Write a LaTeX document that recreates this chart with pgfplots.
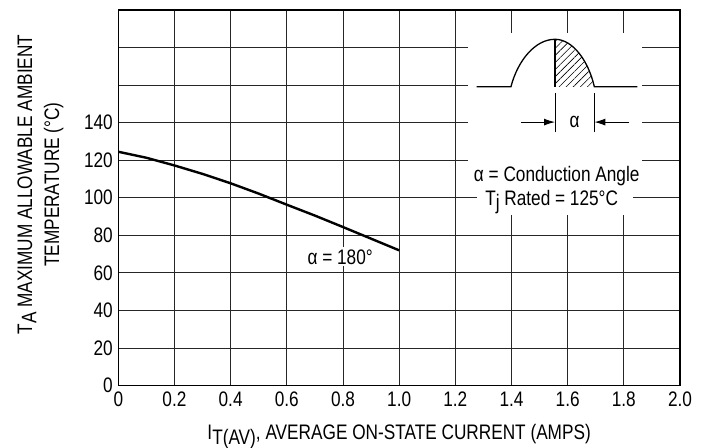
\documentclass[border=0pt]{standalone}
\usepackage{fontspec}
\setmainfont{Liberation Sans}[FakeStretch=0.82]
\usepackage{pgfplots}
\pgfplotsset{compat=1.18}
\usetikzlibrary{patterns.meta,arrows.meta}
\newcommand{\fs}{\fontsize{21bp}{25bp}\selectfont}
\newcommand{\dn}[1]{\raisebox{-0.38ex}{#1}}

\begin{document}
\begin{tikzpicture}
\begin{axis}[
  scale only axis,
  width=561.7bp, height=375.5bp,
  xmin=0, xmax=2, ymin=0, ymax=200,
  xtick={0,0.2,0.4,0.6,0.8,1.0,1.2,1.4,1.6,1.8,2.0},
  xticklabels={0,0.2,0.4,0.6,0.8,1.0,1.2,1.4,1.6,1.8,2.0},
  ytick={0,20,40,60,80,100,120,140,160,180,200},
  yticklabels={0,20,40,60,80,100,120,140,,,},
  grid=major,
  major grid style={line width=0.9bp, black!85},
  major tick length=0pt,
  axis line style={line width=1.3bp},
  tick label style={font=\fs, /pgf/number format/assume math mode=true},
  xticklabel style={yshift=-3bp},
  yticklabel style={xshift=-2bp},
  clip=false,
]
% derating curve, alpha = 180 deg
\addplot[line width=2.4bp, black] coordinates {
  (0,124.5) (0.1,121.3) (0.2,117.2) (0.3,112.7) (0.4,107.7) (0.5,102.2)
  (0.6,96.3) (0.7,90.5) (0.8,84.4) (0.9,78.2) (1.0,72)
};
\node[font=\fs, fill=white, inner sep=2bp, anchor=base] at (axis cs:0.79,64.7) {α = 180°};

% inset: conduction angle sketch
\fill[white] (axis cs:1.245,104) rectangle (axis cs:1.864,187.7);
\fill[white] (axis cs:1.276,90.8) rectangle (axis cs:1.833,106);
\fill[pattern={Lines[angle=45,distance=5bp,line width=0.6bp]}]
  (axis cs:1.555,159.1) -- (axis cs:1.555,184.4)
  .. controls (axis cs:1.618,184.4) and (axis cs:1.674,173) .. (axis cs:1.695,159.1) -- cycle;
\draw[line width=1.3bp] (axis cs:1.276,159.1) -- (axis cs:1.398,159.1)
  .. controls (axis cs:1.422,173) and (axis cs:1.484,184.4) .. (axis cs:1.555,184.4)
  .. controls (axis cs:1.618,184.4) and (axis cs:1.674,173) .. (axis cs:1.695,159.1)
  -- (axis cs:1.848,159.1);
\draw[line width=1.3bp] (axis cs:1.555,159.1) -- (axis cs:1.555,184.4);
\draw[line width=1bp] (axis cs:1.555,155.6) -- (axis cs:1.555,135.2);
\draw[line width=1bp] (axis cs:1.695,155.6) -- (axis cs:1.695,135.2);
\draw[line width=1bp, -{Latex[length=11bp,width=7bp]}] (axis cs:1.435,140.3) -- (axis cs:1.555,140.3);
\draw[line width=1bp, -{Latex[length=11bp,width=7bp]}] (axis cs:1.817,140.3) -- (axis cs:1.695,140.3);
\node[font=\fs] at (axis cs:1.625,140.3) {α};
\node[font=\fs, anchor=base] at (axis cs:1.561,108.5) {α = Conduction Angle};
\node[font=\fs, anchor=base] at (axis cs:1.543,96.1) {T\dn{j} Rated = 125°C};

% axis titles
\node[font=\fs, anchor=base] at (axis cs:1.0,-29) {I\dn{T(AV)}, AVERAGE ON-STATE CURRENT (AMPS)};
\node[rotate=90, font=\fontsize{21bp}{27bp}\selectfont, align=center] at (axis cs:-0.277,107)
  {T\dn{A} MAXIMUM ALLOWABLE AMBIENT\\TEMPERATURE (°C)};

\coordinate (bl) at (rel axis cs:0,0);
\coordinate (tr) at (rel axis cs:1,1);
\end{axis}
\pgfresetboundingbox
\path[use as bounding box] ([shift={(-118.3bp,-62.5bp)}]bl) rectangle ([shift={(23bp,10bp)}]tr);
\end{tikzpicture}
\end{document}
